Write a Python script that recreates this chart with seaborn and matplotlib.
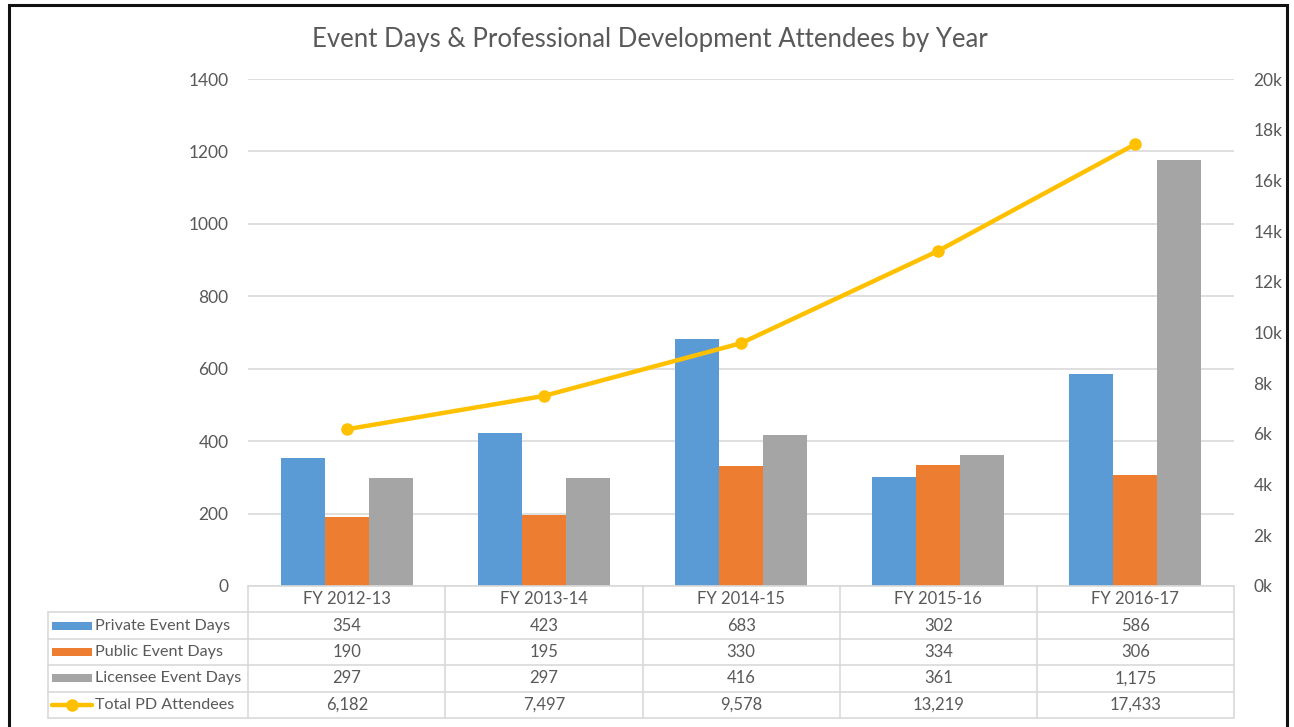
import matplotlib
matplotlib.use("Agg")
import matplotlib.pyplot as plt
import matplotlib.patches as mpatches
import seaborn as sns
import pandas as pd

years = ["FY 2012-13", "FY 2013-14", "FY 2014-15", "FY 2015-16", "FY 2016-17"]
private_days = [354, 423, 683, 302, 586]
public_days = [190, 195, 330, 334, 306]
licensee_days = [297, 297, 416, 361, 1175]
pd_attendees = [6182, 7497, 9578, 13219, 17433]

series_names = ["Private Event Days", "Public Event Days", "Licensee Event Days"]
colors = ["#5B9BD5", "#ED7D31", "#A5A5A5"]
line_color = "#FFC000"
line_name = "Total PD Attendees"
text_color = "#595959"
grid_color = "#D9D9D9"

df = pd.DataFrame({
    "year": years * 3,
    "series": [s for s in series_names for _ in years],
    "value": private_days + public_days + licensee_days,
})

sns.set_style("white")
plt.rcParams["font.family"] = ["Lato", "DejaVu Sans"]

W, H = 1294, 727
fig = plt.figure(figsize=(W / 100, H / 100), dpi=100)
fig.patch.set_facecolor("white")

def px_rect(x0, y0, x1, y1):
    return [x0 / W, (H - y1) / H, (x1 - x0) / W, (y1 - y0) / H]

# outer frame
fig.patches.append(mpatches.Rectangle((9 / W, -0.02), (1287 - 9) / W, (H - 5) / H + 0.02,
                                      transform=fig.transFigure, fill=False,
                                      edgecolor="#111111", linewidth=2.2))

ax = fig.add_axes(px_rect(248, 79, 1234, 586))
sns.barplot(data=df, x="year", y="value", hue="series", palette=colors,
            width=0.67, saturation=1, ax=ax, legend=False, linewidth=0)
ax.set_xlim(-0.5, 4.5)
ax.set_ylim(0, 1400)
ax.set_yticks(range(0, 1401, 200))
ax.yaxis.grid(True, color=grid_color, linewidth=1.2)
ax.set_axisbelow(True)
for s in ax.spines.values():
    s.set_visible(False)
ax.set_xticks([])
ax.set_xlabel("")
ax.set_ylabel("")
ax.tick_params(axis="y", length=0, pad=14, labelsize=12.5, labelcolor=text_color)

ax2 = ax.twinx()
sns.lineplot(x=list(range(len(years))), y=pd_attendees, ax=ax2, color=line_color,
             linewidth=3.2, marker="o", markersize=9, markeredgewidth=0)
ax2.set_ylim(0, 20000)
ax2.set_yticks(range(0, 20001, 2000))
ax2.set_yticklabels([f"{v // 1000}k" for v in range(0, 20001, 2000)])
ax2.tick_params(axis="y", length=0, pad=14, labelsize=12.5, labelcolor=text_color)
for s in ax2.spines.values():
    s.set_visible(False)
ax2.grid(False)

fig.text(650 / W, 1 - 40 / H, "Event Days & Professional Development Attendees by Year",
         ha="center", va="center", fontsize=18.5, color=text_color)

# data table
tab = fig.add_axes(px_rect(48, 586, 1234, 718))
tab.set_xlim(-1.516, 4.5)
tab.set_ylim(5, 0)
tab.axis("off")
lw = 1.2
tab.plot([-0.5, 4.5], [0, 0], color=grid_color, lw=lw, clip_on=False)
for r in range(1, 6):
    tab.plot([-1.516, 4.5], [r, r], color=grid_color, lw=lw, clip_on=False)
tab.plot([-1.516, -1.516], [1, 5], color=grid_color, lw=lw, clip_on=False)
for c in range(6):
    tab.plot([c - 0.5, c - 0.5], [0, 5], color=grid_color, lw=lw, clip_on=False)

fs = 12
for i, y in enumerate(years):
    tab.text(i, 0.5, y, ha="center", va="center", fontsize=fs, color=text_color)

rows = [private_days, public_days, licensee_days, pd_attendees]
for r, vals in enumerate(rows, start=1):
    for i, v in enumerate(vals):
        tab.text(i, r + 0.5, f"{v:,}", ha="center", va="center", fontsize=fs, color=text_color)

label_names = series_names + [line_name]
for r, name in enumerate(label_names, start=1):
    x0 = -1.516 + 4 / 196.8
    x1 = -1.516 + 44 / 196.8
    if r <= 3:
        tab.add_patch(mpatches.Rectangle((x0, r + 0.35), x1 - x0, 0.3,
                                         color=colors[r - 1], lw=0))
    else:
        tab.plot([x0, x1], [r + 0.5, r + 0.5], color=line_color, lw=3.2)
        tab.plot([(x0 + x1) / 2], [r + 0.5], "o", color=line_color, markersize=8)
    tab.text(x1 + 3 / 196.8, r + 0.5, name, ha="left", va="center", fontsize=11.6, color=text_color)

fig.savefig("out.png", dpi=100, facecolor="white")
